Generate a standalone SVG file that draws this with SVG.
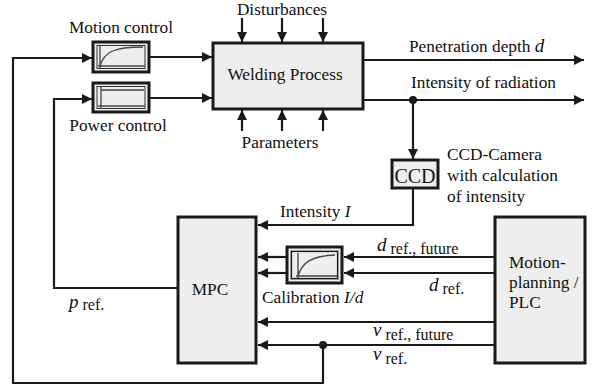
<svg xmlns="http://www.w3.org/2000/svg" width="593" height="392" viewBox="0 0 593 392">
<defs>
<marker id="ah" viewBox="0 0 10 10" refX="10" refY="5" markerWidth="10" markerHeight="10" markerUnits="userSpaceOnUse" orient="auto">
<path d="M0,0 L10,5 L0,10 z" fill="#1a1a1a"/>
</marker>
<style>
.box{fill:#eeeeee;stroke:#1a1a1a;stroke-width:3}
.ln{fill:none;stroke:#1a1a1a;stroke-width:2.2}
.ic{fill:none;stroke:#444;stroke-width:1.3}
.in{fill:#eeeeee;stroke:#333;stroke-width:1}
.t{font-family:"Liberation Serif",serif;font-size:17.3px;fill:#111}
.it{font-style:italic;font-size:19px}
.sub{font-size:16px}
</style>
</defs>
<rect width="593" height="392" fill="#ffffff"/>

<g id="connectors">
<path class="ln" d="M323,345 V383 H13 V58 H92" marker-end="url(#ah)"/>
<path class="ln" d="M178,288 H54 V99 H92" marker-end="url(#ah)"/>
<path class="ln" d="M150,57 H212" marker-end="url(#ah)"/>
<path class="ln" d="M150,98 H212" marker-end="url(#ah)"/>
<path class="ln" d="M242,18 V42" marker-end="url(#ah)"/>
<path class="ln" d="M282,18 V42" marker-end="url(#ah)"/>
<path class="ln" d="M323,18 V42" marker-end="url(#ah)"/>
<path class="ln" d="M242,131 V110" marker-end="url(#ah)"/>
<path class="ln" d="M282,131 V110" marker-end="url(#ah)"/>
<path class="ln" d="M323,131 V110" marker-end="url(#ah)"/>
<path class="ln" d="M364,60 H584" marker-end="url(#ah)"/>
<path class="ln" d="M364,100 H584" marker-end="url(#ah)"/>
<path class="ln" d="M413,100 V159" marker-end="url(#ah)"/>
<path class="ln" d="M413,189 V225 H258" marker-end="url(#ah)"/>
<path class="ln" d="M494,257 H344" marker-end="url(#ah)"/>
<path class="ln" d="M494,273 H344" marker-end="url(#ah)"/>
<path class="ln" d="M286,257 H258" marker-end="url(#ah)"/>
<path class="ln" d="M286,273 H258" marker-end="url(#ah)"/>
<path class="ln" d="M494,322 H258" marker-end="url(#ah)"/>
<path class="ln" d="M494,345 H258" marker-end="url(#ah)"/>
<circle cx="413" cy="100" r="4" fill="#1a1a1a"/>
<circle cx="323" cy="345" r="4" fill="#1a1a1a"/>
</g>

<g id="motion-control">
<rect class="box" x="93" y="42" width="56" height="30"/>
<rect class="in" x="97" y="45.5" width="48" height="23"/>
<path class="ic" d="M100,46 V68 M98,66 H145 M100,66 C104,52 114,47 143,47"/>
<text class="t" x="121" y="33" text-anchor="middle">Motion control</text>
</g>

<g id="power-control">
<rect class="box" x="93" y="83" width="56" height="29"/>
<rect class="in" x="97" y="86.5" width="48" height="22"/>
<path class="ic" d="M101,87 V109 M101,90 H144 M98,106 H145"/>
<text class="t" x="118" y="131" text-anchor="middle">Power control</text>
</g>

<g id="welding-process">
<rect class="box" x="213" y="43" width="150" height="66"/>
<text class="t" x="285" y="80" text-anchor="middle">Welding Process</text>
</g>

<g id="disturbances">
<text class="t" x="282" y="15" text-anchor="middle">Disturbances</text>
</g>

<g id="parameters">
<text class="t" x="280" y="148" text-anchor="middle">Parameters</text>
</g>

<g id="outputs">
<text class="t" x="409" y="52">Penetration depth <tspan class="it">d</tspan></text>
<text class="t" x="411" y="88">Intensity of radiation</text>
</g>

<g id="ccd">
<rect class="box" x="392" y="160" width="46" height="28"/>
<text class="t" x="415" y="183" text-anchor="middle" style="font-size:20px">CCD</text>
<text class="t" x="447" y="160">CCD-Camera</text>
<text class="t" x="447" y="181">with calculation</text>
<text class="t" x="447" y="202">of intensity</text>
</g>

<g id="mpc">
<rect class="box" x="178" y="217" width="78" height="146"/>
<text class="t" x="210" y="295" text-anchor="middle">MPC</text>
</g>

<g id="calibration">
<rect class="box" x="287" y="247" width="55" height="36"/>
<rect x="290" y="250" width="49" height="30" fill="#aaaaaa"/>
<rect x="291.5" y="251.5" width="46" height="27" fill="#eeeeee" stroke="#1a1a1a" stroke-width="1.2"/>
<path class="ic" d="M298,253 V278 M296,276 H337 M298,276 C302,262 312,256 335,255"/>
<text class="t" x="262" y="303">Calibration <tspan font-style="italic">I/d</tspan></text>
</g>

<g id="motion-planning">
<rect class="box" x="495" y="217" width="90" height="146"/>
<text class="t" x="509" y="268">Motion-</text>
<text class="t" x="509" y="288">planning /</text>
<text class="t" x="509" y="308">PLC</text>
</g>

<g id="labels">
<text class="t" x="280" y="217">Intensity <tspan font-style="italic">I</tspan></text>
<text class="t" x="377" y="251"><tspan class="it">d</tspan><tspan class="sub" dy="3"> ref., future</tspan></text>
<text class="t" x="429" y="291"><tspan class="it">d</tspan><tspan class="sub" dy="3"> ref.</tspan></text>
<text class="t" x="373" y="336"><tspan class="it">v</tspan><tspan class="sub" dy="4"> ref., future</tspan></text>
<text class="t" x="373" y="360"><tspan class="it">v</tspan><tspan class="sub" dy="4"> ref.</tspan></text>
<text class="t" x="69" y="308"><tspan class="it">p</tspan><tspan class="sub" dy="2"> ref.</tspan></text>
</g>
</svg>
